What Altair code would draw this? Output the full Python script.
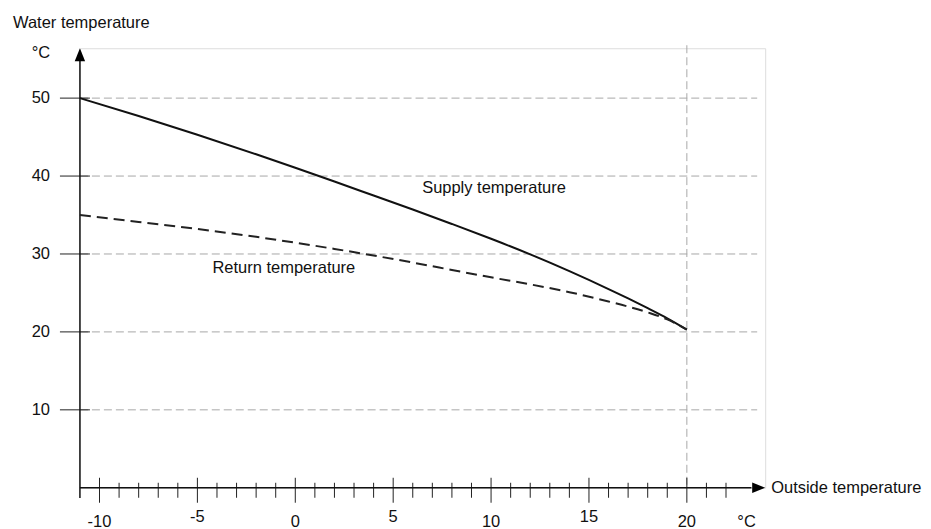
import altair as alt
import pandas as pd

# ---- data ----
outside = [-11, -8, -5, -2, 0, 2, 4, 6, 8, 10, 12, 14, 16, 17, 18, 19, 20]
supply = [50.0, 47.7, 45.3, 42.8, 41.07, 39.3, 37.5, 35.7, 33.85, 31.95, 29.95, 27.8, 25.5, 24.3, 23.05, 21.75, 20.3]
ret = [35.0, 34.1, 33.2, 32.2, 31.45, 30.65, 29.8, 28.9, 27.95, 27.0, 26.1, 25.1, 23.9, 23.25, 22.5, 21.6, 20.3]

y_ticks = [10, 20, 30, 40, 50]
x_major = [-10, -5, 0, 5, 10, 15, 20]
x_minor = [v for v in range(-10, 23) if v % 5 != 0]
x_labels = ["-10", "-5", "0", "5", "10", "15", "20"]

FONT = "Liberation Sans"
FS = 16.5

xs = alt.Scale(domain=[-11, 24], nice=False, zero=False)
ys = alt.Scale(domain=[0, 56.4], nice=False, zero=False)
X = lambda f: alt.X(f, type="quantitative", scale=xs, axis=None)
Y = lambda f: alt.Y(f, type="quantitative", scale=ys, axis=None)

curves = pd.DataFrame({"x": outside, "supply": supply, "ret": ret})
grid_df = pd.DataFrame({"y": y_ticks, "label": [str(v) for v in y_ticks]})
major_df = pd.DataFrame({"x": x_major, "label": x_labels,
                         "odd": [i % 2 for i in range(len(x_major))]})
minor_df = pd.DataFrame({"x": x_minor})

# horizontal dashed grid
hgrid = alt.Chart(grid_df).mark_rule(color="#a8a8a8", strokeWidth=1, strokeDash=[8, 4]).encode(
    y=Y("y"), x=alt.value(0), x2=alt.value(678))
# vertical dashed line at 20
vline = alt.Chart(pd.DataFrame({"x": [20]})).mark_rule(color="#a8a8a8", strokeWidth=1, strokeDash=[8, 4]).encode(
    x=X("x"), y=alt.value(-3), y2=alt.value(440))

# y ticks (left of axis)
yticks = alt.Chart(grid_df).mark_rule(color="#222", strokeWidth=1).encode(
    y=Y("y"), x=alt.value(-20), x2=alt.value(10))
ylabels = alt.Chart(grid_df).mark_text(align="right", baseline="middle", font=FONT, fontSize=FS, color="#111").encode(
    y=Y("y"), x=alt.value(-30), text="label:N")

# axes lines
axis_df = pd.DataFrame({"x0": [-11], "x1": [23.3], "y0": [-1.3], "y1": [55.5], "z": [0]})
xaxis = alt.Chart(axis_df).mark_rule(color="#111", strokeWidth=1.5).encode(
    x=X("x0"), x2="x1", y=Y("z"))
yaxis = alt.Chart(axis_df).mark_rule(color="#111", strokeWidth=1.5).encode(
    y=Y("y0"), y2="y1", x=X("x0"))
arrow_r = alt.Chart(pd.DataFrame({"x": [24], "y": [0]})).mark_point(
    shape="M0,0L-1,-0.4L-1,0.4Z", filled=True, color="#000", size=676, opacity=1).encode(x=X("x"), y=Y("y"))
arrow_u = alt.Chart(pd.DataFrame({"x": [-11], "y": [56.4]})).mark_point(
    shape="M0,0L-0.4,1L0.4,1Z", filled=True, color="#000", size=676, opacity=1).encode(x=X("x"), y=Y("y"))

# x ticks
majors = alt.Chart(major_df).mark_rule(color="#222", strokeWidth=1).encode(
    x=X("x"), y=alt.value(430), y2=alt.value(455))
minors = alt.Chart(minor_df).mark_rule(color="#222", strokeWidth=1).encode(
    x=X("x"), y=alt.value(435), y2=alt.value(450))
xlab_even = alt.Chart(major_df).transform_filter("datum.odd == 0").mark_text(
    align="center", baseline="middle", font=FONT, fontSize=FS, color="#111").encode(
    x=X("x"), y=alt.value(474), text="label:N")
xlab_odd = alt.Chart(major_df).transform_filter("datum.odd == 1").mark_text(
    align="center", baseline="middle", font=FONT, fontSize=FS, color="#111").encode(
    x=X("x"), y=alt.value(469), text="label:N")

# curves
sup_line = alt.Chart(curves).mark_line(color="#111", strokeWidth=2, interpolate="monotone").encode(
    x=X("x"), y=Y("supply"))
ret_line = alt.Chart(curves).mark_line(color="#222", strokeWidth=2, strokeDash=[11, 6], interpolate="monotone").encode(
    x=X("x"), y=Y("ret"))

# annotations
ann = pd.DataFrame({
    "x": [6.48, -4.23],
    "y": [38.5, 28.2],
    "t": ["Supply temperature", "Return temperature"],
})
ann_text = alt.Chart(ann).mark_text(align="left", baseline="middle", font=FONT, fontSize=FS, color="#111").encode(
    x=X("x"), y=Y("y"), text="t:N")

title_y = alt.Chart(pd.DataFrame({"t": ["Water temperature"]})).mark_text(
    align="left", baseline="middle", font=FONT, fontSize=FS, color="#111").encode(
    x=alt.value(-67), y=alt.value(-25), text="t:N")
unit_y = alt.Chart(pd.DataFrame({"t": ["°C"]})).mark_text(
    align="center", baseline="middle", font=FONT, fontSize=FS, color="#111").encode(
    x=alt.value(-39), y=alt.value(4.5), text="t:N")
title_x = alt.Chart(pd.DataFrame({"t": ["Outside temperature"]})).mark_text(
    align="left", baseline="middle", font=FONT, fontSize=FS, color="#111").encode(
    x=alt.value(692), y=alt.value(440), text="t:N")
unit_x = alt.Chart(pd.DataFrame({"x": [23.05], "t": ["°C"]})).mark_text(
    align="center", baseline="middle", font=FONT, fontSize=FS, color="#111").encode(
    x=X("x"), y=alt.value(474), text="t:N")

chart = alt.layer(
    hgrid, vline, yticks, ylabels, majors, minors, xaxis, yaxis, arrow_r, arrow_u,
    xlab_even, xlab_odd, sup_line, ret_line, ann_text, title_y, unit_y, title_x, unit_x
).properties(
    width=686, height=440,
    autosize=alt.AutoSizeParams(type="none"),
    padding={"left": 72, "top": 40, "right": 158, "bottom": 48},
).configure_view(stroke=None).configure(background="white")

chart.save("out.html", embed_options={"renderer": "svg", "actions": False})
